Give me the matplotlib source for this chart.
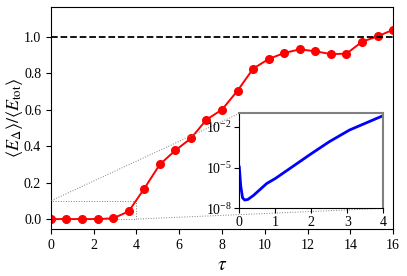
import numpy as np
import matplotlib
matplotlib.use("Agg")
import matplotlib.pyplot as plt
from mpl_toolkits.axes_grid1.inset_locator import mark_inset

plt.rcParams["font.family"] = "Liberation Serif"
plt.rcParams["mathtext.fontset"] = "stix"

# main curve: energy fraction vs tau
tau = [0.0, 0.727, 1.455, 2.182, 2.909, 3.636, 4.364, 5.091, 5.818, 6.545,
       7.273, 8.0, 8.727, 9.455, 10.182, 10.909, 11.636, 12.364, 13.091,
       13.818, 14.545, 15.273, 16.0]
ratio = [0.0, 0.0, 0.0, 0.0, 0.004, 0.042, 0.167, 0.30, 0.377, 0.443,
         0.546, 0.601, 0.705, 0.826, 0.879, 0.912, 0.932, 0.921, 0.906,
         0.908, 0.974, 1.003, 1.040]

# inset curve (log scale)
tau_in = [0.0, 0.04, 0.09, 0.15, 0.24, 0.39, 0.76, 1.0, 1.49, 1.98, 2.5,
          3.06, 3.52, 3.96, 4.0]
ratio_in = [1.1e-5, 4.3e-7, 6.0e-8, 4.1e-8, 4.6e-8, 8.9e-8, 6.8e-7, 1.6e-6,
            1.26e-5, 1.0e-4, 8.3e-4, 6.0e-3, 2.0e-2, 6.3e-2, 6.8e-2]

fig = plt.figure(figsize=(4.07, 2.76), dpi=100)
ax = fig.add_axes([0.125, 0.170, 0.841, 0.805])
ax.plot(tau, ratio, "-o", color="red", lw=1.4, ms=5.5)
ax.axhline(1.0, color="black", ls="--", lw=1.3)
ax.set_xlim(0, 16)
ax.set_ylim(-0.055, 1.165)
ax.set_xticks([0, 2, 4, 6, 8, 10, 12, 14, 16])
ax.set_yticks([0.0, 0.2, 0.4, 0.6, 0.8, 1.0])
ax.tick_params(labelsize=10)
ax.set_xlabel(r"$\tau$", fontsize=14)
ax.set_ylabel(r"$\langle E_\Delta\rangle/\langle E_{\rm tot}\rangle$", fontsize=13)
ax.yaxis.set_label_coords(-0.076, 0.5)

axin = fig.add_axes([0.588, 0.245, 0.354, 0.344])
axin.plot(tau_in, ratio_in, color="blue", lw=2)
axin.set_yscale("log")
axin.set_xlim(0, 4)
axin.set_ylim(1e-8, 1e-1)
axin.set_xticks([0, 1, 2, 3, 4])
axin.set_yticks([1e-8, 1e-5, 1e-2])
axin.yaxis.set_minor_locator(matplotlib.ticker.NullLocator())
axin.tick_params(labelsize=10, pad=2)
for s in ["top", "right"]:
    axin.spines[s].set_color("0.5")
    axin.spines[s].set_linewidth(1.5)

mark_inset(ax, axin, loc1=2, loc2=4, fc="none", ec="0.5", ls=":", lw=0.7)

plt.savefig("out.png", dpi=100)
